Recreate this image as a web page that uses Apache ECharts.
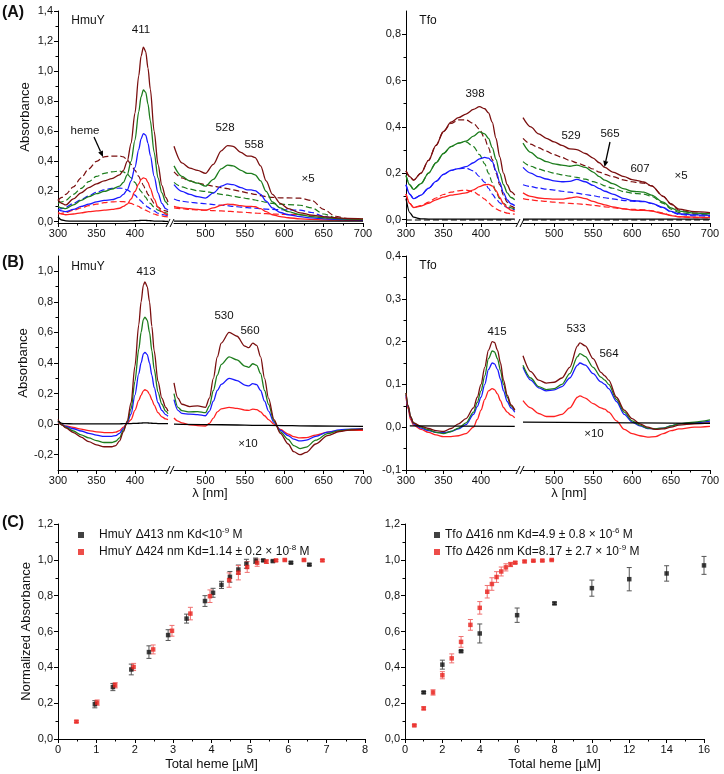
<!DOCTYPE html>
<html><head><meta charset="utf-8">
<script src="https://cdn.jsdelivr.net/npm/echarts@6/dist/echarts.min.js"></script>
<style>html,body{margin:0;padding:0;background:#fff}#c{width:724px;height:774px}</style>
</head><body><div id="c"></div>
<script>
// ================= DATA =================
// Tick values
const X1_MAJ = [300, 350, 400], X1_MIN = [325, 375, 425];
const X2_MAJ = [500, 550, 600, 650, 700], X2_MIN = [475, 525, 575, 625, 675];
const YA_L_MAJ = [0, 0.2, 0.4, 0.6, 0.8, 1.0, 1.2, 1.4], YA_L_MIN = [0.1, 0.3, 0.5, 0.7, 0.9, 1.1, 1.3];
const YA_R_MAJ = [0, 0.2, 0.4, 0.6, 0.8], YA_R_MIN = [0.1, 0.3, 0.5, 0.7];
const YB_L_MAJ = [-0.2, 0, 0.2, 0.4, 0.6, 0.8, 1.0], YB_L_MIN = [-0.1, 0.1, 0.3, 0.5, 0.7, 0.9];
const YB_R_MAJ = [-0.1, 0, 0.1, 0.2, 0.3, 0.4], YB_R_MIN = [-0.05, 0.05, 0.15, 0.25, 0.35];
const XC_L_MAJ = [0, 1, 2, 3, 4, 5, 6, 7, 8], XC_L_MIN = [0.5, 1.5, 2.5, 3.5, 4.5, 5.5, 6.5, 7.5];
const XC_R_MAJ = [0, 2, 4, 6, 8, 10, 12, 14, 16], XC_R_MIN = [1, 3, 5, 7, 9, 11, 13, 15];
const YC_MAJ = [0, 0.2, 0.4, 0.6, 0.8, 1.0, 1.2], YC_MIN = [0.1, 0.3, 0.5, 0.7, 0.9, 1.1];

// (A) HmuY, 300-443 nm
const WL_AL1 = [300,305,310,320,330,340,350,360,370,380,385,390,395,400,405,408,411,414,417,420,425,430,435,440,443];
const AL1_M = [0.145,0.12,0.11,0.15,0.19,0.225,0.25,0.27,0.285,0.31,0.34,0.40,0.52,0.72,0.97,1.10,1.16,1.13,1.02,0.88,0.60,0.38,0.24,0.16,0.13];
const AL1_G = [0.10,0.09,0.085,0.11,0.14,0.165,0.185,0.20,0.215,0.235,0.26,0.31,0.40,0.54,0.73,0.83,0.875,0.86,0.78,0.67,0.46,0.29,0.19,0.13,0.11];
const AL1_B = [0.08,0.07,0.065,0.08,0.10,0.115,0.13,0.14,0.145,0.16,0.18,0.21,0.27,0.36,0.48,0.55,0.585,0.575,0.52,0.44,0.30,0.19,0.12,0.085,0.075];
const AL1_R = [0.06,0.05,0.045,0.05,0.058,0.065,0.07,0.075,0.08,0.088,0.10,0.115,0.15,0.20,0.25,0.28,0.29,0.285,0.26,0.22,0.15,0.095,0.065,0.05,0.045];
const AL1_MD = [0.14,0.16,0.18,0.23,0.29,0.35,0.40,0.43,0.435,0.435,0.43,0.41,0.38,0.34,0.30,0.27,0.24,0.21,0.18,0.155,0.12,0.095,0.08,0.07,0.065];
const AL1_GD = [0.12,0.13,0.14,0.18,0.22,0.265,0.30,0.32,0.33,0.335,0.33,0.315,0.29,0.26,0.22,0.20,0.18,0.16,0.14,0.12,0.095,0.075,0.065,0.058,0.055];
const AL1_BD = [0.08,0.085,0.095,0.12,0.145,0.17,0.195,0.21,0.22,0.222,0.22,0.21,0.195,0.175,0.15,0.135,0.12,0.105,0.095,0.085,0.07,0.055,0.048,0.042,0.04];
const AL1_RD = [0.05,0.055,0.06,0.075,0.09,0.105,0.115,0.125,0.13,0.133,0.132,0.128,0.12,0.11,0.10,0.09,0.082,0.075,0.068,0.06,0.05,0.042,0.037,0.032,0.03];
const AL1_K = [0.03,0.01,0.004,0.002,0.002,0.002,0.002,0.002,0.002,0.002,0.003,0.003,0.004,0.005,0.006,0.007,0.008,0.007,0.006,0.005,0.003,0.002,0.002,0.001,0.001];
// (A) HmuY, 460-700 nm (x5)
const WL_AL2 = [460,470,480,490,500,510,520,528,535,545,553,558,563,570,577,585,595,605,620,635,650,665,680,700];
const AL2_M = [0.50,0.39,0.355,0.34,0.32,0.38,0.47,0.505,0.50,0.46,0.435,0.435,0.425,0.37,0.27,0.18,0.12,0.085,0.058,0.042,0.032,0.025,0.02,0.018];
const AL2_G = [0.37,0.30,0.27,0.255,0.235,0.28,0.35,0.375,0.37,0.34,0.32,0.32,0.31,0.27,0.20,0.13,0.09,0.065,0.045,0.033,0.025,0.02,0.016,0.014];
const AL2_B = [0.245,0.20,0.18,0.165,0.155,0.19,0.235,0.25,0.245,0.225,0.21,0.21,0.205,0.18,0.135,0.09,0.06,0.045,0.032,0.024,0.018,0.014,0.012,0.01];
const AL2_R = [0.10,0.09,0.085,0.08,0.075,0.09,0.108,0.115,0.113,0.105,0.10,0.10,0.098,0.085,0.065,0.045,0.032,0.025,0.018,0.014,0.011,0.009,0.008,0.007];
const AL2_MD = [0.33,0.29,0.27,0.255,0.245,0.235,0.225,0.218,0.21,0.20,0.19,0.185,0.18,0.172,0.165,0.16,0.157,0.157,0.155,0.14,0.08,0.035,0.02,0.015];
const AL2_GD = [0.26,0.23,0.215,0.205,0.20,0.19,0.18,0.175,0.168,0.16,0.152,0.148,0.143,0.135,0.128,0.12,0.115,0.112,0.108,0.09,0.05,0.025,0.016,0.012];
const AL2_BD = [0.15,0.135,0.128,0.122,0.118,0.112,0.108,0.105,0.10,0.096,0.092,0.09,0.088,0.085,0.082,0.08,0.078,0.077,0.075,0.06,0.035,0.018,0.012,0.009];
const AL2_RD = [0.09,0.085,0.08,0.077,0.075,0.072,0.07,0.068,0.066,0.062,0.06,0.058,0.056,0.054,0.052,0.05,0.048,0.047,0.045,0.038,0.022,0.012,0.008,0.006];
const WL_AL2_K = [460, 700], AL2_K = [0.003, 0.003];

// (A) Tfo, 300-445 nm
const WL_AR1 = [300,305,310,320,330,340,350,360,370,380,390,398,405,410,415,420,425,430,435,440,445];
const AR1_M = [0.21,0.185,0.17,0.20,0.255,0.32,0.38,0.42,0.44,0.455,0.475,0.487,0.478,0.46,0.42,0.35,0.27,0.20,0.15,0.12,0.105];
const AR1_G = [0.19,0.15,0.13,0.155,0.20,0.245,0.285,0.315,0.33,0.338,0.36,0.378,0.37,0.35,0.31,0.26,0.20,0.15,0.115,0.095,0.085];
const AR1_B = [0.15,0.11,0.09,0.105,0.135,0.165,0.195,0.212,0.22,0.228,0.245,0.262,0.268,0.265,0.25,0.21,0.16,0.115,0.085,0.068,0.06];
const AR1_R = [0.11,0.07,0.052,0.058,0.07,0.085,0.097,0.105,0.11,0.115,0.128,0.142,0.15,0.152,0.145,0.125,0.095,0.068,0.05,0.04,0.035];
const AR1_MD = [0.21,0.185,0.17,0.20,0.255,0.32,0.38,0.415,0.43,0.43,0.415,0.39,0.35,0.31,0.26,0.20,0.15,0.105,0.075,0.058,0.05];
const AR1_GD = [0.19,0.15,0.13,0.155,0.20,0.245,0.285,0.315,0.33,0.335,0.315,0.28,0.24,0.20,0.16,0.12,0.09,0.07,0.058,0.05,0.045];
const AR1_BD = [0.15,0.11,0.09,0.105,0.135,0.165,0.195,0.212,0.22,0.222,0.21,0.185,0.16,0.135,0.11,0.09,0.072,0.06,0.052,0.046,0.042];
const AR1_RD = [0.11,0.07,0.052,0.06,0.075,0.093,0.108,0.118,0.124,0.127,0.12,0.105,0.088,0.072,0.058,0.046,0.038,0.032,0.028,0.025,0.023];
const AR1_K = [0.09,0.03,0.01,0.003,0.002,0.002,0.002,0.002,0.002,0.002,0.002,0.002,0.002,0.002,0.002,0.002,0.002,0.002,0.002,0.002,0.002];
const WL_AR1_KD = [300, 445], AR1_KD = [-0.002, -0.002];
// (A) Tfo, 460-700 nm (x5)
const WL_AR2 = [460,470,480,490,500,510,520,529,540,550,558,565,575,590,600,607,615,625,640,650,660,680,700];
const AR2_M = [0.44,0.40,0.37,0.35,0.335,0.32,0.305,0.302,0.285,0.265,0.245,0.225,0.205,0.185,0.172,0.168,0.162,0.145,0.10,0.068,0.045,0.034,0.03];
const AR2_G = [0.33,0.29,0.265,0.25,0.24,0.235,0.23,0.235,0.225,0.205,0.185,0.17,0.155,0.132,0.122,0.12,0.118,0.105,0.075,0.05,0.036,0.028,0.025];
const AR2_B = [0.225,0.20,0.185,0.175,0.167,0.163,0.165,0.173,0.163,0.147,0.133,0.122,0.11,0.09,0.082,0.08,0.078,0.07,0.052,0.035,0.025,0.02,0.018];
const AR2_R = [0.115,0.10,0.093,0.09,0.088,0.088,0.093,0.098,0.09,0.078,0.07,0.063,0.055,0.046,0.041,0.04,0.04,0.036,0.025,0.017,0.012,0.01,0.009];
const AR2_MD = [0.35,0.325,0.31,0.295,0.28,0.268,0.255,0.245,0.232,0.218,0.205,0.195,0.185,0.17,0.163,0.16,0.157,0.145,0.10,0.065,0.04,0.028,0.024];
const AR2_GD = [0.25,0.23,0.218,0.208,0.20,0.193,0.187,0.182,0.174,0.164,0.155,0.145,0.135,0.12,0.114,0.112,0.11,0.10,0.07,0.045,0.03,0.022,0.02];
const AR2_BD = [0.15,0.142,0.136,0.131,0.127,0.122,0.118,0.114,0.108,0.103,0.098,0.094,0.089,0.082,0.079,0.078,0.077,0.07,0.05,0.032,0.022,0.016,0.014];
const AR2_RD = [0.09,0.085,0.081,0.078,0.075,0.072,0.07,0.068,0.065,0.062,0.058,0.055,0.051,0.046,0.044,0.043,0.042,0.038,0.028,0.018,0.012,0.008,0.007];
const WL_AR2_K = [460, 700], AR2_K = [0.002, 0.002], AR2_KD = [-0.002, -0.002];

// (B) HmuY difference, 300-443 nm
const WL_BL1 = [300,305,310,320,330,340,350,360,370,375,380,385,390,395,400,405,408,411,413,416,419,422,425,430,435,440,443];
const BL1_M = [0.03,-0.005,-0.025,-0.055,-0.085,-0.115,-0.135,-0.148,-0.148,-0.14,-0.11,-0.05,0.02,0.14,0.38,0.65,0.80,0.91,0.93,0.90,0.80,0.64,0.48,0.28,0.17,0.11,0.085];
const BL1_G = [0.02,-0.005,-0.02,-0.045,-0.07,-0.09,-0.108,-0.12,-0.12,-0.112,-0.09,-0.04,0.015,0.10,0.28,0.49,0.60,0.685,0.70,0.68,0.60,0.48,0.36,0.21,0.13,0.085,0.068];
const BL1_B = [0.015,-0.003,-0.015,-0.03,-0.045,-0.06,-0.072,-0.08,-0.08,-0.075,-0.06,-0.028,0.01,0.065,0.19,0.33,0.40,0.46,0.47,0.455,0.40,0.32,0.24,0.14,0.09,0.062,0.052];
const BL1_R = [0.01,-0.003,-0.012,-0.022,-0.032,-0.042,-0.05,-0.055,-0.055,-0.052,-0.042,-0.02,0.005,0.03,0.09,0.155,0.19,0.218,0.225,0.218,0.195,0.16,0.125,0.075,0.048,0.034,0.03];
const BL1_K = [0.02,0.005,0.003,0.002,0.002,0.002,0.002,0.002,0.002,0.002,0.002,0.003,0.003,0.004,0.005,0.006,0.007,0.008,0.008,0.008,0.007,0.006,0.005,0.004,0.003,0.003,0.003];
// (B) HmuY difference, 460-700 nm (x10)
const WL_BL2 = [460,465,470,480,490,500,505,510,515,520,530,540,550,555,560,565,570,575,580,587,595,605,612,620,628,640,655,670,685,700];
const BL2_M = [0.27,0.17,0.13,0.115,0.12,0.11,0.17,0.30,0.44,0.53,0.60,0.575,0.51,0.50,0.53,0.515,0.44,0.30,0.17,0.03,-0.06,-0.13,-0.18,-0.20,-0.185,-0.13,-0.075,-0.048,-0.037,-0.033];
const BL2_G = [0.20,0.11,0.088,0.08,0.082,0.075,0.12,0.22,0.32,0.39,0.44,0.42,0.38,0.372,0.395,0.385,0.33,0.22,0.13,0.02,-0.05,-0.10,-0.14,-0.16,-0.15,-0.105,-0.062,-0.042,-0.035,-0.032];
const BL2_B = [0.16,0.09,0.07,0.065,0.062,0.055,0.085,0.15,0.22,0.26,0.30,0.285,0.255,0.25,0.265,0.258,0.22,0.15,0.085,0.01,-0.04,-0.075,-0.098,-0.11,-0.105,-0.08,-0.052,-0.038,-0.032,-0.03];
const BL2_R = [0.04,0.02,0.008,-0.004,-0.01,-0.012,0.005,0.04,0.08,0.10,0.11,0.103,0.092,0.09,0.098,0.095,0.08,0.055,0.03,0.0,-0.035,-0.065,-0.082,-0.09,-0.088,-0.072,-0.052,-0.042,-0.04,-0.04];
const WL_BL2_K = [460, 520, 580, 640, 700], BL2_K = [0.0, -0.004, -0.008, -0.012, -0.015];

// (B) Tfo difference, 300-445 nm
const WL_BR1 = [300,303,306,310,320,330,340,350,360,370,380,390,395,400,405,410,415,418,422,426,430,435,440,445];
const BR1_M = [0.08,0.05,0.025,0.01,0.002,-0.003,-0.008,-0.01,-0.003,0.008,0.02,0.045,0.07,0.10,0.14,0.18,0.20,0.198,0.18,0.15,0.11,0.075,0.052,0.04];
const BR1_G = [0.08,0.05,0.025,0.01,0.0,-0.006,-0.012,-0.015,-0.01,-0.002,0.01,0.035,0.058,0.085,0.12,0.16,0.178,0.176,0.16,0.132,0.10,0.07,0.05,0.04];
const BR1_B = [0.075,0.047,0.023,0.008,-0.002,-0.008,-0.012,-0.013,-0.01,-0.004,0.006,0.03,0.048,0.07,0.10,0.135,0.15,0.148,0.135,0.112,0.085,0.06,0.045,0.035];
const BR1_R = [0.07,0.042,0.018,0.005,-0.005,-0.012,-0.018,-0.022,-0.022,-0.02,-0.015,0.0,0.018,0.04,0.065,0.085,0.09,0.088,0.078,0.062,0.046,0.035,0.028,0.022];
const WL_BR1_K = [305, 445], BR1_K = [0.003, 0.002];
// (B) Tfo difference, 460-700 nm (x10)
const WL_BR2 = [460,470,480,490,500,510,520,530,533,540,550,560,565,570,580,590,600,610,620,630,640,650,660,680,700];
const BR2_M = [0.167,0.13,0.11,0.103,0.105,0.115,0.14,0.19,0.197,0.19,0.16,0.128,0.12,0.11,0.07,0.04,0.02,0.008,0.0,-0.005,-0.004,0.0,0.005,0.008,0.01];
const BR2_G = [0.145,0.115,0.095,0.088,0.09,0.10,0.125,0.165,0.172,0.165,0.14,0.117,0.11,0.10,0.065,0.035,0.015,0.005,-0.002,-0.004,-0.002,0.003,0.008,0.012,0.017];
const BR2_B = [0.14,0.11,0.092,0.085,0.087,0.095,0.115,0.145,0.15,0.145,0.125,0.106,0.10,0.09,0.06,0.03,0.012,0.003,-0.003,-0.004,-0.002,0.003,0.008,0.01,0.014];
const BR2_R = [0.062,0.045,0.032,0.025,0.025,0.03,0.045,0.07,0.073,0.068,0.055,0.045,0.042,0.035,0.015,-0.005,-0.015,-0.02,-0.023,-0.022,-0.015,-0.008,-0.004,0.0,0.002];
const WL_BR2_K = [460, 700], BR2_K = [0.012, 0.009];

// (C) titrations
const CL_BX = [0.96,1.43,1.91,2.37,2.87,3.35,3.83,4.04,4.26,4.48,4.70,4.91,5.15,5.35,5.60,6.07,6.55];
const CL_BY = [0.194,0.29,0.388,0.485,0.58,0.672,0.77,0.816,0.86,0.905,0.946,0.978,0.995,0.997,0.993,0.984,0.973];
const CL_BE = [0.02,0.02,0.03,0.035,0.03,0.025,0.03,0.025,0.02,0.03,0.025,0.025,0.015,0.005,0.005,0.005,0.005];
const CL_RX = [0.48,1.02,1.49,1.97,2.48,2.97,3.45,3.96,4.46,4.70,4.93,5.19,5.43,5.68,5.91,6.41,6.89];
const CL_RY = [0.097,0.203,0.30,0.402,0.50,0.604,0.70,0.797,0.887,0.928,0.96,0.984,0.99,0.997,0.999,0.999,0.997];
const CL_RE = [0.005,0.015,0.015,0.02,0.025,0.03,0.035,0.035,0.04,0.04,0.03,0.02,0.01,0.005,0.005,0.005,0.005];
const CR_BX = [1,2,3,4,6,8,10,12,14,16];
const CR_BY = [0.26,0.415,0.49,0.589,0.691,0.757,0.842,0.892,0.924,0.969];
const CR_BE = [0.005,0.025,0.005,0.053,0.04,0.007,0.045,0.065,0.043,0.05];
const CR_RX = [0.5,1,1.5,2,2.5,3,3.5,4,4.4,4.65,4.9,5.15,5.4,5.65,5.9,6.4,6.87,7.35,7.85];
const CR_RY = [0.076,0.171,0.26,0.356,0.45,0.542,0.637,0.732,0.822,0.865,0.904,0.935,0.958,0.974,0.984,0.991,0.995,0.996,0.999];
const CR_RE = [0.004,0.008,0.015,0.02,0.025,0.03,0.03,0.035,0.035,0.035,0.03,0.025,0.02,0.012,0.005,0.004,0.004,0.004,0.004];
const LEG_HB = 'HmuY Δ413 nm Kd<10^-9 M';
const LEG_HR = 'HmuY Δ424 nm Kd=1.14 ± 0.2 × 10^-8 M';
const LEG_TB = 'Tfo Δ416 nm Kd=4.9 ± 0.8 × 10^-6 M';
const LEG_TR = 'Tfo Δ426 nm Kd=8.17 ± 2.7 × 10^-9 M';

// ================= BUILD =================
const F = '"Liberation Sans", Arial, Helvetica, sans-serif';
const COL = {m: '#7a0f0f', g: '#1d7d1d', b: '#1a1aff', r: '#ff2020', k: '#000000'};
const grids = [], xAxis = [], yAxis = [], series = [];
const fmtC = v => (Math.round(v * 10) / 10).toFixed(1).replace('.', ',');
const fmtI = v => String(Math.round(v));

function addGrid(l, t, w, h) { grids.push({left: l, top: t, width: w, height: h}); return grids.length - 1; }
function addAxes(dim, gi, min, max, major, minor, o) {
  o = o || {};
  const arr = dim === 'x' ? xAxis : yAxis;
  const pos = dim === 'x' ? 'bottom' : 'left';
  const show = o.show !== false;
  arr.push({
    type: 'value', gridIndex: gi, min, max, position: pos, show,
    axisLine: {show: true, onZero: false, lineStyle: {color: '#000', width: 1}},
    axisTick: {show: true, customValues: major || [], length: 4, lineStyle: {color: '#000', width: 1}},
    axisLabel: {show: true, customValues: major || [], margin: 5, fontSize: 11,
      color: '#111', fontFamily: F, formatter: o.fmt || fmtI},
    splitLine: {show: false},
    name: o.name || '', nameLocation: 'middle', nameGap: o.nameGap || 20,
    nameTextStyle: {fontSize: 13, fontFamily: F, color: '#111'}
  });
  const idx = arr.length - 1;
  if (show && minor) {
    arr.push({
      type: 'value', gridIndex: gi, min, max, position: pos,
      axisLine: {show: false, onZero: false},
      axisTick: {show: true, customValues: minor, length: 2.5, lineStyle: {color: '#000', width: 1}},
      axisLabel: {show: false}, splitLine: {show: false}
    });
  }
  return idx;
}
function addLine(xi, yi, wl, vals, color, dashed) {
  series.push({
    type: 'line', xAxisIndex: xi, yAxisIndex: yi, data: wl.map((w, i) => [w, vals[i]]),
    showSymbol: false, symbol: 'none', smooth: 0.3, smoothMonotone: 'x', silent: true,
    lineStyle: {color, width: dashed ? 1.2 : 1.3, type: dashed ? [6, 3] : 'solid'}, z: dashed ? 2 : 3
  });
}
function addSet(xi, yi, wl, M, G, B, R, dashed) {
  addLine(xi, yi, wl, R, COL.r, dashed);
  addLine(xi, yi, wl, B, COL.b, dashed);
  addLine(xi, yi, wl, G, COL.g, dashed);
  addLine(xi, yi, wl, M, COL.m, dashed);
}
function addPoints(xi, yi, X, Y, E, name, color, barColor) {
  const d = X.map((x, i) => [x, Y[i], E[i]]);
  series.push({
    type: 'custom', xAxisIndex: xi, yAxisIndex: yi, data: d, encode: {x: 0, y: 1}, silent: true, z: 4,
    renderItem: (p, api) => {
      const x = api.value(0), y = api.value(1), e = api.value(2);
      const t = api.coord([x, y + e]), b = api.coord([x, y - e]);
      const st = {stroke: barColor, lineWidth: 1};
      return {type: 'group', children: [
        {type: 'line', shape: {x1: t[0], y1: t[1], x2: b[0], y2: b[1]}, style: st},
        {type: 'line', shape: {x1: t[0] - 2.5, y1: t[1], x2: t[0] + 2.5, y2: t[1]}, style: st},
        {type: 'line', shape: {x1: b[0] - 2.5, y1: b[1], x2: b[0] + 2.5, y2: b[1]}, style: st}
      ]};
    }
  });
  series.push({type: 'scatter', name, xAxisIndex: xi, yAxisIndex: yi, data: d.map(v => [v[0], v[1]]),
    symbol: 'rect', symbolSize: 4.5, itemStyle: {color}, silent: true, z: 5});
}

// Row A
const gA1 = addGrid(58, 11, 110, 212), gA2 = addGrid(174, 11, 189, 212);
const gA3 = addGrid(406, 11, 111, 212), gA4 = addGrid(523, 11, 187, 212);
const xA1 = addAxes('x', gA1, 300, 443, X1_MAJ, X1_MIN), xA2 = addAxes('x', gA2, 460, 700, X2_MAJ, X2_MIN);
const xA3 = addAxes('x', gA3, 300, 448, X1_MAJ, X1_MIN), xA4 = addAxes('x', gA4, 460, 700, X2_MAJ, X2_MIN);
const yA1 = addAxes('y', gA1, -0.01, 1.4, YA_L_MAJ, YA_L_MIN, {fmt: fmtC, name: 'Absorbance', nameGap: 26});
const yA2 = addAxes('y', gA2, -0.01, 1.4, null, null, {show: false});
const yA3 = addAxes('y', gA3, -0.015, 0.9, YA_R_MAJ, YA_R_MIN, {fmt: fmtC});
const yA4 = addAxes('y', gA4, -0.015, 0.9, null, null, {show: false});
// Row B
const gB1 = addGrid(58, 256, 110, 214), gB2 = addGrid(174, 256, 189, 214);
const gB3 = addGrid(406, 256, 111, 214), gB4 = addGrid(523, 256, 187, 214);
const xB1 = addAxes('x', gB1, 300, 443, X1_MAJ, X1_MIN), xB2 = addAxes('x', gB2, 460, 700, X2_MAJ, X2_MIN);
const xB3 = addAxes('x', gB3, 300, 448, X1_MAJ, X1_MIN), xB4 = addAxes('x', gB4, 460, 700, X2_MAJ, X2_MIN);
const yB1 = addAxes('y', gB1, -0.3, 1.1, YB_L_MAJ, YB_L_MIN, {fmt: fmtC, name: 'Absorbance', nameGap: 26});
const yB2 = addAxes('y', gB2, -0.3, 1.1, null, null, {show: false});
const yB3 = addAxes('y', gB3, -0.1, 0.4, YB_R_MAJ, YB_R_MIN, {fmt: fmtC});
const yB4 = addAxes('y', gB4, -0.1, 0.4, null, null, {show: false});
// Row C
const gC1 = addGrid(58, 524, 307, 215), gC2 = addGrid(405, 524, 299, 215);
const xC1 = addAxes('x', gC1, 0, 8, XC_L_MAJ, XC_L_MIN, {name: 'Total heme [µM]', nameGap: 19});
const xC2 = addAxes('x', gC2, 0, 16, XC_R_MAJ, XC_R_MIN, {name: 'Total heme [µM]', nameGap: 19});
const yC1 = addAxes('y', gC1, 0, 1.2, YC_MAJ, YC_MIN, {fmt: fmtC, name: 'Normalized Absorbance', nameGap: 25});
const yC2 = addAxes('y', gC2, 0, 1.2, YC_MAJ, YC_MIN, {fmt: fmtC});

// Series A
addSet(xA1, yA1, WL_AL1, AL1_MD, AL1_GD, AL1_BD, AL1_RD, true);
addSet(xA1, yA1, WL_AL1, AL1_M, AL1_G, AL1_B, AL1_R, false);
addLine(xA1, yA1, WL_AL1, AL1_K, COL.k, false);
addSet(xA2, yA2, WL_AL2, AL2_MD, AL2_GD, AL2_BD, AL2_RD, true);
addSet(xA2, yA2, WL_AL2, AL2_M, AL2_G, AL2_B, AL2_R, false);
addLine(xA2, yA2, WL_AL2_K, AL2_K, COL.k, false);
addSet(xA3, yA3, WL_AR1, AR1_MD, AR1_GD, AR1_BD, AR1_RD, true);
addSet(xA3, yA3, WL_AR1, AR1_M, AR1_G, AR1_B, AR1_R, false);
addLine(xA3, yA3, WL_AR1, AR1_K, COL.k, false);
addLine(xA3, yA3, WL_AR1_KD, AR1_KD, COL.k, true);
addSet(xA4, yA4, WL_AR2, AR2_MD, AR2_GD, AR2_BD, AR2_RD, true);
addSet(xA4, yA4, WL_AR2, AR2_M, AR2_G, AR2_B, AR2_R, false);
addLine(xA4, yA4, WL_AR2_K, AR2_K, COL.k, false);
addLine(xA4, yA4, WL_AR2_K, AR2_KD, COL.k, true);
// Series B
addSet(xB1, yB1, WL_BL1, BL1_M, BL1_G, BL1_B, BL1_R, false);
addLine(xB1, yB1, WL_BL1, BL1_K, COL.k, false);
addSet(xB2, yB2, WL_BL2, BL2_M, BL2_G, BL2_B, BL2_R, false);
addLine(xB2, yB2, WL_BL2_K, BL2_K, COL.k, false);
addSet(xB3, yB3, WL_BR1, BR1_M, BR1_G, BR1_B, BR1_R, false);
addLine(xB3, yB3, WL_BR1_K, BR1_K, COL.k, false);
addSet(xB4, yB4, WL_BR2, BR2_M, BR2_G, BR2_B, BR2_R, false);
addLine(xB4, yB4, WL_BR2_K, BR2_K, COL.k, false);
// Series C
addPoints(xC1, yC1, CL_BX, CL_BY, CL_BE, LEG_HB, '#111111', '#555555');
addPoints(xC1, yC1, CL_RX, CL_RY, CL_RE, LEG_HR, '#e8201c', '#f07070');
addPoints(xC2, yC2, CR_BX, CR_BY, CR_BE, LEG_TB, '#111111', '#555555');
addPoints(xC2, yC2, CR_RX, CR_RY, CR_RE, LEG_TR, '#e8201c', '#f07070');

// ================= ANNOTATIONS =================
function T(text, x, y, size, bold) {
  return {type: 'text', x, y, z: 100, style: {text, fontSize: size || 11.5, fontFamily: F,
    fontWeight: bold ? 'bold' : 'normal', fill: '#111', align: 'center', verticalAlign: 'middle',
    textAlign: 'center', textVerticalAlign: 'middle'}};
}
function arrow(x1, y1, x2, y2) {
  const a = Math.atan2(y2 - y1, x2 - x1), L = 6, W = 2.6;
  const bx = x2 - L * Math.cos(a), by = y2 - L * Math.sin(a);
  const px = -Math.sin(a) * W, py = Math.cos(a) * W;
  return [
    {type: 'line', z: 100, shape: {x1, y1, x2: bx, y2: by}, style: {stroke: '#000', lineWidth: 1.3}},
    {type: 'polygon', z: 100, shape: {points: [[x2, y2], [bx + px, by + py], [bx - px, by - py]]}, style: {fill: '#000'}}
  ];
}
function brk(x, y) {
  return [0, 4].map(d => ({type: 'line', z: 100, shape: {x1: x - 4 + d, y1: y + 4, x2: x + d, y2: y - 4},
    style: {stroke: '#000', lineWidth: 1}}));
}
const graphic = [
  T('(A)', 13, 13, 16, true), T('(B)', 13, 263, 16, true), T('(C)', 13, 523, 16, true),
  T('HmuY', 88, 21, 12), T('411', 141, 30), T('heme', 85, 131), T('528', 225, 128), T('558', 254, 145), T('×5', 308, 179),
  T('Tfo', 428, 21, 12), T('398', 475, 94), T('529', 571, 136), T('565', 610, 134), T('607', 640, 169), T('×5', 681, 176),
  T('HmuY', 88, 267, 12), T('413', 146, 272), T('530', 224, 316), T('560', 250, 331), T('×10', 248, 444),
  T('Tfo', 428, 266, 12), T('415', 497, 332), T('533', 576, 329), T('564', 609, 354), T('×10', 594, 434),
  T('λ [nm]', 210, 493, 13), T('λ [nm]', 569, 493, 13),
  ...arrow(94, 137, 103, 157), ...arrow(610, 142, 604.5, 167),
  ...brk(170, 223), ...brk(520, 223), ...brk(170, 470), ...brk(520, 470)
];

const supFmt = n => n.replace(/\^(-?\d+)/g, '{sup|$1}');
const legTS = pad => ({fontSize: 12, fontFamily: F, color: '#111', lineHeight: 16, padding: [0, 0, 0, pad],
  rich: {sup: {fontSize: 8, fontFamily: F, color: '#111', verticalAlign: 'top', lineHeight: 9}}});

const option = {
  animation: false, backgroundColor: '#fff', textStyle: {fontFamily: F},
  grid: grids, xAxis, yAxis, series, graphic,
  legend: [
    {data: [LEG_HB, LEG_HR], left: 73, top: 522, orient: 'vertical', icon: 'rect', itemWidth: 6, itemHeight: 6,
      itemGap: 1, selectedMode: false, formatter: supFmt, textStyle: legTS(10)},
    {data: [LEG_TB, LEG_TR], left: 429, top: 522, orient: 'vertical', icon: 'rect', itemWidth: 6, itemHeight: 6,
      itemGap: 1, selectedMode: false, formatter: supFmt, textStyle: legTS(0)}
  ]
};
const chart = echarts.init(document.getElementById('c'), null, {renderer: 'canvas'});
chart.setOption(option);
</script></body></html>
